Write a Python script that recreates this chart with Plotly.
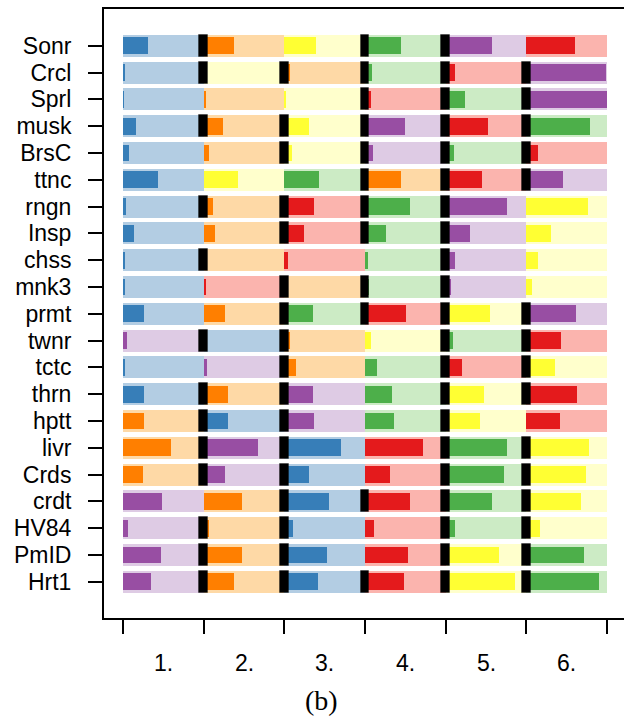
import plotly.graph_objects as go

# Data sets (rows, top to bottom)
datasets = ["Sonr", "Crcl", "Sprl", "musk", "BrsC", "ttnc", "rngn", "Insp", "chss", "mnk3",
            "prmt", "twnr", "tctc", "thrn", "hptt", "livr", "Crds", "crdt", "HV84", "PmID", "Hrt1"]

# Method occupying each rank position 1..6 (colour keys)
rank_methods = [
    ["B", "O", "Y", "G", "P", "R"],
    ["B", "Y", "O", "G", "R", "P"],
    ["B", "O", "Y", "R", "G", "P"],
    ["B", "O", "Y", "P", "R", "G"],
    ["B", "O", "Y", "P", "G", "R"],
    ["B", "Y", "G", "O", "R", "P"],
    ["B", "O", "R", "G", "P", "Y"],
    ["B", "O", "R", "G", "P", "Y"],
    ["B", "O", "R", "G", "P", "Y"],
    ["B", "R", "O", "G", "P", "Y"],
    ["B", "O", "G", "R", "Y", "P"],
    ["P", "B", "O", "Y", "G", "R"],
    ["B", "P", "O", "G", "R", "Y"],
    ["B", "O", "P", "G", "Y", "R"],
    ["O", "B", "P", "G", "Y", "R"],
    ["O", "P", "B", "R", "G", "Y"],
    ["O", "P", "B", "R", "G", "Y"],
    ["P", "O", "B", "R", "G", "Y"],
    ["P", "O", "B", "R", "G", "Y"],
    ["P", "O", "B", "R", "Y", "G"],
    ["P", "O", "B", "R", "Y", "G"],
]

# Share of each cell filled with the saturated colour
rank_share = [
    [0.31, 0.37, 0.39, 0.45, 0.58, 0.60],
    [0.025, 0.03, 0.07, 0.09, 0.12, 0.99],
    [0.012, 0.025, 0.012, 0.07, 0.24, 1.00],
    [0.16, 0.24, 0.31, 0.50, 0.52, 0.79],
    [0.07, 0.06, 0.09, 0.10, 0.10, 0.14],
    [0.43, 0.42, 0.43, 0.45, 0.45, 0.45],
    [0.04, 0.11, 0.37, 0.56, 0.76, 0.76],
    [0.14, 0.14, 0.24, 0.26, 0.30, 0.30],
    [0.025, 0.03, 0.04, 0.04, 0.12, 0.14],
    [0.025, 0.025, 0.03, 0.05, 0.07, 0.07],
    [0.26, 0.26, 0.36, 0.51, 0.55, 0.62],
    [0.05, 0.03, 0.07, 0.07, 0.09, 0.43],
    [0.025, 0.04, 0.15, 0.15, 0.20, 0.35],
    [0.26, 0.30, 0.35, 0.33, 0.47, 0.63],
    [0.26, 0.30, 0.37, 0.36, 0.42, 0.42],
    [0.60, 0.67, 0.70, 0.72, 0.76, 0.78],
    [0.25, 0.27, 0.31, 0.31, 0.72, 0.74],
    [0.48, 0.48, 0.55, 0.56, 0.57, 0.68],
    [0.06, 0.07, 0.11, 0.11, 0.12, 0.17],
    [0.47, 0.48, 0.53, 0.53, 0.66, 0.71],
    [0.35, 0.38, 0.42, 0.48, 0.86, 0.90],
]

# Separator flags between consecutive ranks (1|2, 2|3, 3|4, 4|5, 5|6)
rank_breaks = [
    [1, 0, 1, 1, 0],
    [1, 1, 1, 1, 1],
    [0, 0, 1, 1, 1],
    [1, 1, 1, 1, 1],
    [0, 1, 1, 1, 1],
    [0, 0, 1, 1, 1],
    [1, 1, 1, 1, 0],
    [0, 1, 1, 1, 0],
    [1, 0, 0, 1, 0],
    [0, 1, 1, 1, 0],
    [0, 1, 1, 1, 1],
    [1, 1, 0, 1, 1],
    [0, 1, 0, 1, 1],
    [1, 1, 0, 1, 1],
    [1, 1, 0, 1, 0],
    [1, 1, 0, 1, 1],
    [1, 1, 0, 1, 1],
    [0, 1, 1, 1, 1],
    [1, 1, 0, 1, 1],
    [1, 1, 0, 1, 1],
    [1, 1, 1, 1, 1],
]

rank_labels = ["1.", "2.", "3.", "4.", "5.", "6."]

strong = {"B": "#377EB8", "O": "#FF7F00", "Y": "#FFFF33",
          "G": "#4DAF4A", "P": "#984EA3", "R": "#E41A1C"}
pale = {"B": "#B3CDE3", "O": "#FED9A6", "Y": "#FFFFCC",
        "G": "#CCEBC5", "P": "#DECBE4", "R": "#FBB4AE"}

rows_idx = list(range(len(datasets)))

bg_y, bg_base, bg_w, bg_col = [], [], [], []
fg_y, fg_base, fg_w, fg_col = [], [], [], []
sep_y, sep_base = [], []
sep_w = 0.108
for r in rows_idx:
    for c in range(6):
        m = rank_methods[r][c]
        bg_y.append(r); bg_base.append(c); bg_w.append(1.0); bg_col.append(pale[m])
        fg_y.append(r); fg_base.append(c); fg_w.append(rank_share[r][c]); fg_col.append(strong[m])
    for k, flag in enumerate(rank_breaks[r]):
        if flag:
            sep_y.append(r); sep_base.append(k + 1 - sep_w / 2)

fig = go.Figure()
fig.add_trace(go.Bar(orientation="h", y=bg_y, x=bg_w, base=bg_base, width=0.82,
                     marker=dict(color=bg_col, line=dict(width=0)), showlegend=False,
                     hoverinfo="skip"))
fig.add_trace(go.Bar(orientation="h", y=fg_y, x=fg_w, base=fg_base, width=0.63,
                     marker=dict(color=fg_col, line=dict(width=0)), showlegend=False,
                     hoverinfo="skip"))
fig.add_trace(go.Bar(orientation="h", y=sep_y, x=[sep_w] * len(sep_y), base=sep_base,
                     width=0.82,
                     marker=dict(color="#000000", line=dict(width=1, color="rgba(0,0,0,0.3)")),
                     showlegend=False, hoverinfo="skip"))

for i, lab in enumerate(rank_labels):
    fig.add_annotation(x=i + 0.5, y=-0.074, xref="x", yref="paper", text=lab,
                       showarrow=False, yanchor="middle",
                       font=dict(family="Liberation Sans", size=23, color="#000"))
fig.add_annotation(x=0.419, y=-0.135, xref="paper", yref="paper", text="(b)",
                   showarrow=False, yanchor="middle",
                   font=dict(family="Liberation Serif", size=28, color="#000"))

fig.update_layout(
    width=624, height=723,
    margin=dict(l=104, r=0, t=9, b=105),
    paper_bgcolor="white", plot_bgcolor="white",
    barmode="overlay", bargap=0,
    showlegend=False,
    xaxis=dict(range=[-0.2355, 6.2105], showgrid=False, zeroline=False,
               showline=True, linecolor="#000", linewidth=2, mirror=True,
               tickvals=list(range(7)), ticktext=[""] * 7,
               ticks="outside", ticklen=14, tickwidth=2, tickcolor="#000"),
    yaxis=dict(range=[21.35, -1.373], showgrid=False, zeroline=False,
               showline=True, linecolor="#000", linewidth=2,
               tickvals=rows_idx, ticktext=datasets,
               ticks="outside", ticklen=14, tickwidth=2, tickcolor="#000",
               ticklabelstandoff=12,
               tickfont=dict(family="Liberation Sans", size=23, color="#000")),
)

fig.write_html("out.html")
